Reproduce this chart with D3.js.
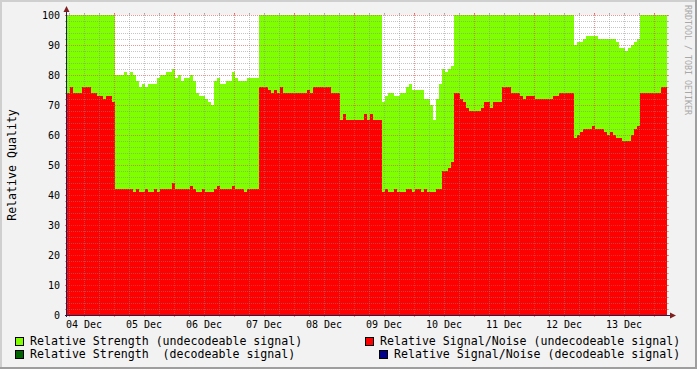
<!DOCTYPE html>
<html><head><meta charset="utf-8">
<script src="https://cdn.jsdelivr.net/npm/d3@7"></script>
<style>html,body{margin:0;padding:0;background:#F2F2F2}svg{display:block}</style>
</head><body>
<svg id="c" width="697" height="369"></svg>
<script>
// ---- data ----
const startTime = new Date(2012, 11, 4, 5, 12);
const stepMinutes = 72;
const strengthUndecodeable = [
100,100,100,100,100,100,100,100,100,100,100,100,100,100,100,100,
80,80,80,81,80,81,80,78,76,77,76,77,77,77,79,80,80,81,81,82,79,80,78,79,79,80,78,74,73,73,72,71,70,78,79,77,77,78,78,81,79,78,78,78,79,79,79,79,
100,100,100,100,100,100,100,100,100,100,100,100,100,100,100,100,100,100,100,100,100,100,100,100,100,100,100,100,100,100,100,100,100,100,100,100,100,100,100,100,100,
71,73,74,74,73,73,74,74,76,77,75,75,75,75,72,72,70,65,72,77,82,81,82,83,
100,100,100,100,100,100,100,100,100,100,100,100,100,100,100,100,100,100,100,100,100,100,100,100,100,100,100,100,100,100,100,100,100,100,100,100,100,100,100,100,
90,91,91,92,93,93,93,93,92,92,92,92,92,92,91,89,89,88,89,90,91,92,
100,100,100,100,100,100,100,100,100
];
const snrUndecodeable = [
74,76,74,74,74,76,76,76,74,74,73,73,72,73,73,71,
42,42,42,42,42,42,41,42,41,41,42,41,41,42,41,42,42,42,42,44,42,42,42,42,42,43,42,41,41,42,41,41,41,42,43,42,42,42,42,43,42,42,42,41,42,42,42,42,
76,76,76,75,74,75,74,76,74,74,74,74,74,74,74,74,75,74,76,76,76,76,76,76,74,74,74,65,67,65,65,65,65,65,65,67,65,67,65,65,65,
41,42,41,41,42,41,41,41,42,42,41,42,42,41,42,41,41,41,42,42,48,48,49,51,
74,74,72,71,69,68,68,68,68,69,71,71,69,71,71,71,76,76,76,74,74,74,73,72,73,73,73,72,72,72,72,72,72,73,73,74,74,74,74,74,
59,60,61,62,62,62,63,62,62,62,61,60,61,60,59,59,58,58,58,60,62,63,
74,74,74,74,74,74,74,76,76
];
const yTickValues = [0,10,20,30,40,50,60,70,80,90,100];
const yTitle = "Relative Quality";
const legendLabels = [
  "Relative Strength (undecodeable signal)",
  "Relative Signal/Noise (undecodeable signal)",
  "Relative Strength  (decodeable signal)",
  "Relative Signal/Noise (decodeable signal)"
];
const legendColors = ["#7FFF00", "#FF0000", "#006400", "#00008B"];
const watermark = "RRDTOOL / TOBI OETIKER";

// ---- layout ----
const W = 697, H = 369;
const X0 = 67, X1 = 667, YT = 15, YB = 315;
const FONT = "'DejaVu Sans Mono', monospace";
const svg = d3.select("#c");

const endTime = new Date(+startTime + strengthUndecodeable.length * stepMinutes * 60000);
const x = d3.scaleTime().domain([startTime, endTime]).range([X0, X1]);
const y = d3.scaleLinear().domain([0, 100]).range([YB, YT]);

function series(vals) {
  const pts = vals.map((v, i) => ({t: new Date(+startTime + i * stepMinutes * 60000), v}));
  pts.push({t: endTime, v: vals[vals.length - 1]});
  return pts;
}

// background & 3D border
svg.append("rect").attr("width", W).attr("height", H).attr("fill", "#F2F2F2");
svg.append("rect").attr("x", 0).attr("y", 0).attr("width", W).attr("height", 2).attr("fill", "#CFCFCF");
svg.append("rect").attr("x", 0).attr("y", 0).attr("width", 2).attr("height", H).attr("fill", "#CFCFCF");
svg.append("rect").attr("x", 0).attr("y", H - 2).attr("width", W).attr("height", 2).attr("fill", "#9E9E9E");
svg.append("rect").attr("x", W - 2).attr("y", 0).attr("width", 2).attr("height", H).attr("fill", "#9E9E9E");

// canvas
svg.append("rect").attr("x", X0).attr("y", YT).attr("width", X1 - X0).attr("height", YB - YT).attr("fill", "#FFFFFF");

const area = d3.area().x(d => x(d.t)).y0(y(0)).y1(d => y(d.v)).curve(d3.curveStepAfter);
svg.append("path").datum(series(strengthUndecodeable)).attr("d", area).attr("fill", legendColors[0]).attr("shape-rendering", "crispEdges");
svg.append("path").datum(series(snrUndecodeable)).attr("d", area).attr("fill", legendColors[1]).attr("shape-rendering", "crispEdges");

// grid
const gMinor = "rgba(140,140,140,0.5)", gMajor = "rgba(222,79,79,0.6)";
const grid = svg.append("g").attr("shape-rendering", "crispEdges");
d3.range(0, 101, 2).forEach(v => {
  const yy = Math.round(y(v)) + 0.5;
  const major = v % 10 === 0;
  const c = major ? gMajor : gMinor;
  grid.append("line").attr("x1", X0 - 2).attr("x2", X1 + 2).attr("y1", yy).attr("y2", yy)
    .attr("stroke", c).attr("stroke-dasharray", "1,1");
  grid.append("line").attr("x1", X0 - 2).attr("x2", X0).attr("y1", yy).attr("y2", yy).attr("stroke", c);
  grid.append("line").attr("x1", X1).attr("x2", X1 + 2).attr("y1", yy).attr("y2", yy).attr("stroke", c);
});
d3.timeHour.every(6).range(startTime, endTime).forEach(t => {
  const xx = Math.round(x(t)) + 0.5;
  const major = t.getHours() === 0;
  const c = major ? gMajor : gMinor;
  grid.append("line").attr("x1", xx).attr("x2", xx).attr("y1", YT - 2).attr("y2", YB + 2)
    .attr("stroke", c).attr("stroke-dasharray", "1,1");
  grid.append("line").attr("x1", xx).attr("x2", xx).attr("y1", YB).attr("y2", YB + 2).attr("stroke", c);
  grid.append("line").attr("x1", xx).attr("x2", xx).attr("y1", YT - 2).attr("y2", YT).attr("stroke", c);
});

// axes
const axisColor = "#1F1F4F";
svg.append("line").attr("x1", X0 - 0.5).attr("x2", X0 - 0.5).attr("y1", YB + 2).attr("y2", YT - 6)
  .attr("stroke", axisColor).attr("shape-rendering", "crispEdges");
svg.append("line").attr("x1", X0 - 2).attr("x2", X1 + 4).attr("y1", YB + 0.5).attr("y2", YB + 0.5)
  .attr("stroke", axisColor).attr("shape-rendering", "crispEdges");
svg.append("path").attr("d", `M${X0 - 3.5},${YT - 3} L${X0 + 2.5},${YT - 3} L${X0 - 0.5},${YT - 9} Z`).attr("fill", "#801F1F");
svg.append("path").attr("d", `M${X1 + 3},${YB - 2.5} L${X1 + 3},${YB + 3.5} L${X1 + 9},${YB + 0.5} Z`).attr("fill", "#801F1F");

// y tick labels
svg.append("g").selectAll("text").data(yTickValues).join("text")
  .attr("x", 60).attr("y", d => y(d) + 3.8).attr("text-anchor", "end")
  .attr("font-family", FONT).attr("font-size", "10px").attr("fill", "#000").text(d => d);

// x labels at noon
const fmt = d3.timeFormat("%d %b");
d3.timeDay.range(d3.timeDay.floor(startTime), endTime)
  .map(d => d3.timeHour.offset(d, 12))
  .filter(d => d >= startTime && d <= endTime)
  .forEach(d => {
    svg.append("text").attr("x", x(d)).attr("y", 328).attr("text-anchor", "middle")
      .attr("font-family", FONT).attr("font-size", "10px").attr("fill", "#000").text(fmt(d));
  });

// y title
svg.append("text").attr("transform", `translate(16,${(YT + YB) / 2}) rotate(-90)`).attr("text-anchor", "middle")
  .attr("font-family", FONT).attr("font-size", "11.6px").attr("fill", "#000").text(yTitle);

// watermark
svg.append("text").attr("transform", "translate(685,5) rotate(90)").attr("text-anchor", "start")
  .attr("font-family", FONT).attr("font-size", "8.3px").attr("fill", "#A8A8A8").text(watermark);

// legend
const legendPos = [
  {bx: 15, by: 337, tx: 30, ty: 345},
  {bx: 365, by: 337, tx: 380, ty: 345},
  {bx: 15, by: 350, tx: 30, ty: 358},
  {bx: 379, by: 350, tx: 394, ty: 358}
];
legendLabels.forEach((lab, i) => {
  const p = legendPos[i];
  svg.append("rect").attr("x", p.bx + 0.5).attr("y", p.by + 0.5).attr("width", 8).attr("height", 8)
    .attr("fill", legendColors[i]).attr("stroke", "#000").attr("shape-rendering", "crispEdges");
  svg.append("text").attr("x", p.tx).attr("y", p.ty).attr("font-family", FONT).attr("font-size", "11.6px")
    .attr("fill", "#000").attr("xml:space", "preserve").style("white-space", "pre").text(lab);
});
</script>
</body></html>
